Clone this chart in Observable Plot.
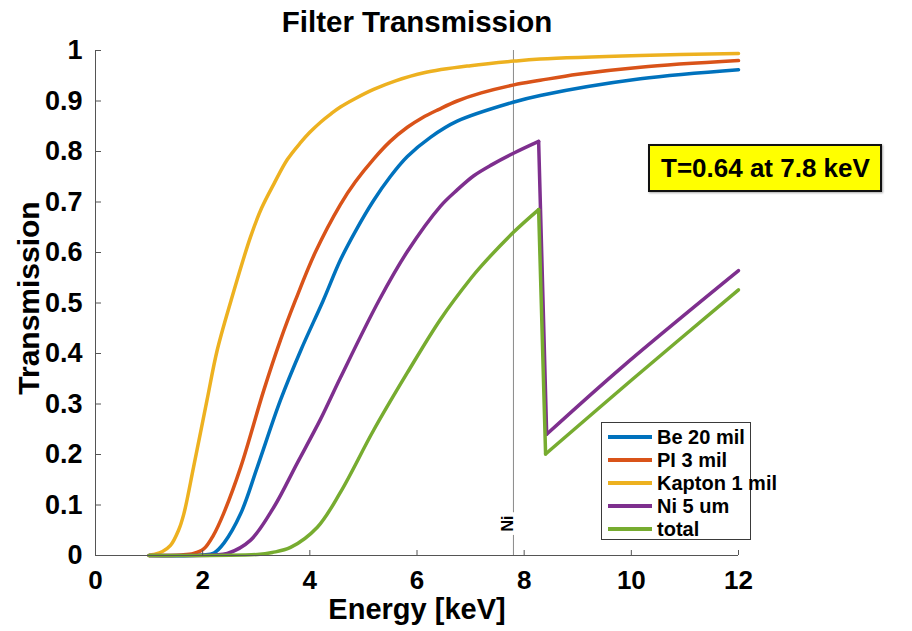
<!DOCTYPE html>
<html>
<head>
<meta charset="utf-8">
<script src="https://cdn.jsdelivr.net/npm/d3@7"></script>
<script src="https://cdn.jsdelivr.net/npm/@observablehq/plot@0.6"></script>
<style>
  body { margin: 0; background: #fff; }
  #chart { position: relative; width: 912px; height: 631px; font-family: "Liberation Sans", Arial, Helvetica, sans-serif; font-weight: bold; }
  #chart svg { display: block; }
  .legend { position: absolute; left: 601px; top: 422px; width: 150px; height: 118px; border: 1px solid #3a3a3a; background: #fff; box-sizing: border-box; }
  .legend .row { position: absolute; left: 0; height: 22px; display: flex; align-items: center; }
  .legend .swatch { width: 44px; height: 3.5px; margin-left: 6px; margin-right: 5px; }
  .legend .name { font-size: 20px; line-height: 22px; white-space: nowrap; color: #000; }
  .note { position: absolute; left: 648px; top: 144px; width: 234px; height: 48px; box-sizing: border-box; background: #ffff00; border: 2px solid #111; box-shadow: 1px 1px 2px rgba(0,0,0,0.35); font-size: 26px; line-height: 44px; padding-left: 11px; white-space: nowrap; color: #000; }
</style>
</head>
<body>
<div id="chart"></div>
<script>
// Transmission vs photon energy for each filter and for the whole stack
const energyBe   = [1.0, 2.0, 2.21, 2.4, 2.71, 3.02, 3.45, 3.83, 4.25, 4.57, 4.85, 5.19, 5.5, 5.82, 6.25, 6.75, 7.81, 8.3, 10.17, 12];
const transBe    = [0, 0.001, 0.005, 0.025, 0.083, 0.175, 0.307, 0.406, 0.505, 0.585, 0.642, 0.703, 0.75, 0.79, 0.828, 0.86, 0.898, 0.911, 0.944, 0.962];

const energyPI   = [1.0, 1.6, 1.83, 2.02, 2.2, 2.39, 2.71, 3.14, 3.45, 3.73, 4.1, 4.57, 4.85, 5.19, 5.5, 5.82, 6.1, 6.4, 6.75, 7.2, 7.81, 8.3, 9.0, 10.17, 12];
const transPI    = [0, 0.001, 0.004, 0.013, 0.04, 0.083, 0.175, 0.327, 0.426, 0.505, 0.60, 0.695, 0.74, 0.785, 0.82, 0.848, 0.867, 0.883, 0.9, 0.916, 0.932, 0.941, 0.953, 0.967, 0.980];

const energyKapton = [1.0, 1.08, 1.25, 1.40, 1.55, 1.65, 1.83, 2.08, 2.27, 2.53, 2.89, 3.1, 3.33, 3.58, 3.83, 4.0, 4.2, 4.4, 4.57, 4.85, 5.19, 5.6, 6.13, 7.0, 7.81, 8.3, 10.17, 12];
const transKapton  = [0, 0.002, 0.008, 0.02, 0.05, 0.083, 0.175, 0.307, 0.406, 0.505, 0.63, 0.688, 0.736, 0.784, 0.818, 0.838, 0.858, 0.875, 0.888, 0.905, 0.923, 0.940, 0.956, 0.970, 0.979, 0.983, 0.990, 0.994];

const energyNi   = [1.0, 2.2, 2.46, 2.89, 3.33, 3.76, 4.2, 4.57, 5.29, 5.82, 6.44, 6.75, 7.06, 7.4, 7.81, 8.27, 8.42, 9.86, 12];
const transNi    = [0, 0.001, 0.004, 0.03, 0.096, 0.182, 0.27, 0.352, 0.505, 0.602, 0.692, 0.724, 0.752, 0.774, 0.797, 0.820, 0.240, 0.376, 0.564];

const energyTotal = [1.0, 3.02, 3.3, 3.64, 4.14, 4.57, 5.19, 5.82, 6.44, 7.0, 7.19, 7.8, 8.27, 8.40, 10.0, 12];
const transTotal  = [0, 0.002, 0.006, 0.016, 0.056, 0.125, 0.248, 0.362, 0.468, 0.548, 0.572, 0.640, 0.685, 0.201, 0.347, 0.526];

const seriesNames  = ["Be 20 mil", "PI 3 mil", "Kapton 1 mil", "Ni 5 um", "total"];
const seriesColors = ["#0072BD", "#D95319", "#EDB120", "#7E2F8E", "#77AC30"];

const xTicks = [0, 2, 4, 6, 8, 10, 12];
const xTickLabels = ["0", "2", "4", "6", "8", "10", "12"];
const yTicks = [0, 0.1, 0.2, 0.3, 0.4, 0.5, 0.6, 0.7, 0.8, 0.9, 1];
const yTickLabels = ["0", "0.1", "0.2", "0.3", "0.4", "0.5", "0.6", "0.7", "0.8", "0.9", "1"];

// absorption-edge marker and the highlighted operating point
const edgeMarkers = [{energy: 7.8, label: "Ni"}];
const noteEnergy = 7.8;
const noteTrans = 0.64;

const titleText = "Filter Transmission";
const xLabel = "Energy [keV]";
const yLabel = "Transmission";

// One row per sample. A fall in transmission marks an absorption edge:
// the smooth branch stops there, the drop is drawn straight and a new branch starts.
const columns = [
  [energyBe, transBe], [energyPI, transPI], [energyKapton, transKapton],
  [energyNi, transNi], [energyTotal, transTotal]
];
const curves = [];
columns.forEach(([es, ts], k) => {
  const series = seriesNames[k];
  let branch = 0;
  es.forEach((e, i) => {
    if (i > 0 && ts[i] < ts[i - 1]) {
      const drop = `${series}|edge${branch}`;
      curves.push({series, path: drop, energy: es[i - 1], trans: ts[i - 1]});
      curves.push({series, path: drop, energy: e, trans: ts[i]});
      branch++;
    }
    curves.push({series, path: `${series}|${branch}`, energy: e, trans: ts[i]});
  });
});

const font = '"Liberation Sans", Arial, Helvetica, sans-serif';
const axisColor = "#555";

const chart = Plot.plot({
  width: 912,
  height: 631,
  marginLeft: 95,
  marginRight: 174,
  marginTop: 50,
  marginBottom: 76,
  style: {fontFamily: font, fontWeight: "bold", background: "#fff", color: "#000"},
  x: {domain: [0, 12]},
  y: {domain: [0, 1]},
  color: {domain: seriesNames, range: seriesColors},
  marks: [
    Plot.ruleX(edgeMarkers, {x: "energy", stroke: "#8a8a8a", strokeWidth: 1}),
    Plot.text(edgeMarkers, {x: "energy", text: "label", frameAnchor: "bottom", dy: -32, rotate: -90,
      fontSize: 16, fontWeight: "bold", fill: "#000", stroke: "#fff", strokeWidth: 9}),
    ...seriesNames.map(name =>
      Plot.line(curves.filter(d => d.series === name), {
        x: "energy", y: "trans", z: "path", stroke: "series", strokeWidth: 3.5, curve: "catmull-rom",
        strokeLinejoin: "round", strokeLinecap: "round"
      })),
    Plot.ruleX([0], {stroke: axisColor, strokeWidth: 1}),
    Plot.ruleY([0], {stroke: axisColor, strokeWidth: 1}),
    Plot.axisX(xTicks, {anchor: "bottom", tickSize: -5, tickPadding: 20, label: null,
      tickFormat: (d, i) => xTickLabels[i], fontSize: 26, stroke: axisColor, fill: "#000"}),
    Plot.axisY(yTicks, {anchor: "left", tickSize: -6, tickPadding: 19, label: null,
      tickFormat: (d, i) => yTickLabels[i], fontSize: 27, stroke: axisColor, fill: "#000"}),
    Plot.text([titleText], {frameAnchor: "top", lineAnchor: "bottom", dy: -19, fontSize: 29.5, fill: "#000"}),
    Plot.text([xLabel], {frameAnchor: "bottom", lineAnchor: "bottom", dy: 63, fontSize: 29, fill: "#000"}),
    Plot.text([yLabel], {frameAnchor: "left", textAnchor: "middle", lineAnchor: "bottom", dx: -57, dy: -5,
      rotate: -90, fontSize: 30, fill: "#000"})
  ]
});

const root = document.getElementById("chart");
root.appendChild(chart);

// legend inside the axes, lower right
const legend = document.createElement("div");
legend.className = "legend";
seriesNames.forEach((name, i) => {
  const row = document.createElement("div");
  row.className = "row";
  row.style.top = (3 + i * 23) + "px";
  const sw = document.createElement("div");
  sw.className = "swatch";
  sw.style.background = seriesColors[i];
  const label = document.createElement("span");
  label.className = "name";
  label.textContent = name;
  row.appendChild(sw);
  row.appendChild(label);
  legend.appendChild(row);
});
root.appendChild(legend);

// callout for the transmission at the marked energy
const note = document.createElement("div");
note.className = "note";
note.textContent = `T=${noteTrans.toFixed(2)} at ${noteEnergy.toFixed(1)} keV`;
root.appendChild(note);
</script>
</body>
</html>
